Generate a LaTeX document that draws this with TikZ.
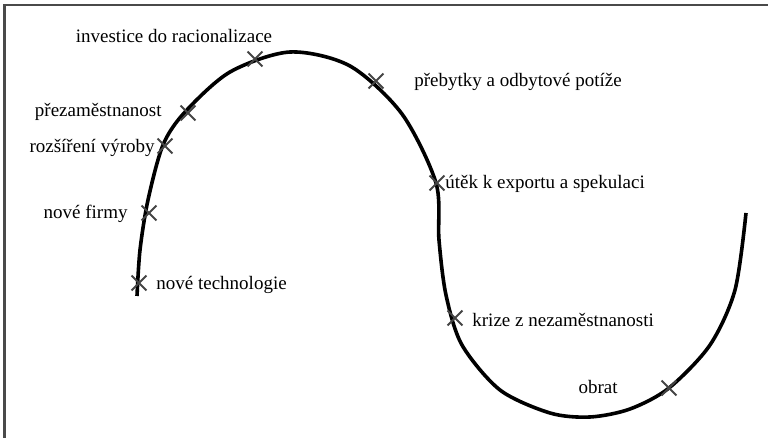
\documentclass[tikz,border=0pt]{standalone}
\usepackage{fontspec}
\setmainfont{Liberation Serif}
\usetikzlibrary{positioning,shapes.misc}
\definecolor{ramecgray}{HTML}{4A4A4A}
\definecolor{krizgray}{HTML}{444444}

\begin{document}
\begin{tikzpicture}[
    x=0.5pt, y=-0.5pt,
    font=\fontsize{9.5}{11}\selectfont,
    %% Rámeček (jen horní a levá hrana)
    ramec/.style={draw=ramecgray, line width=1pt},
    %% Křivka hospodářského cyklu
    krivka/.style={draw=black, line width=1.8pt, line cap=butt},
    %% Křížek na křivce
    krizek/.style={cross out, draw=krizgray, line width=0.9pt,
        minimum size=6.5pt, inner sep=0pt},
    %% Popisek fáze
    popis/.style={inner sep=0pt, text=black}
]

\useasboundingbox (0,0) rectangle (768,438);

%% Rámeček
\coordinate (rLD) at (4.5,438);
\coordinate (rLH) at (4.5,5.5);
\coordinate (rPH) at (768,5.5);
\draw[ramec] (rLD) -- (rLH) -- (rPH);

%% Body křížků
\coordinate (tech)   at (139,283);
\coordinate (firmy)  at (149,213);
\coordinate (vyroba) at (165,146);
\coordinate (preza)  at (188,113);
\coordinate (invest) at (255,59);
\coordinate (prebyt) at (376,81);
\coordinate (utek)   at (437,183);
\coordinate (krize)  at (455,318);
\coordinate (obrat)  at (669,388);

%% Křivka
\draw[krivka] plot[smooth, tension=0.5] coordinates {
    (137,296) (140,250) (148,200) (163,145)
    (185,112) (230,72) (290,52)
    (350,66) (402,114) (436,183) (439,240)
    (446,295) (462,345) (500,390) (550,413)
    (590,417) (630,409) (669,388) (710,345) (735,290)
    (746,213)};

%% Křížky
\foreach \k in {tech, firmy, vyroba, preza, invest, prebyt, utek, krize, obrat} {
    \node[krizek] (x\k) at (\k) {};
}

%% Popisky
\node[popis, right=8.5pt of tech, yshift=-1pt] (lTech) {nové technologie};
\node[popis, left=10.5pt of firmy, yshift=-0.5pt] (lFirmy) {nové firmy};
\node[popis, left=5pt of vyroba, yshift=-1pt] (lVyroba) {rozšíření výroby};
\node[popis, left=13pt of preza, yshift=0.5pt] (lPreza) {přezaměstnanost};
\node[popis] (lInvest) at (174,36) {investice do racionalizace};
\node[popis, right=19pt of prebyt, yshift=-0.5pt] (lPrebyt) {přebytky a odbytové potíže};
\node[popis, right=4pt of utek, yshift=-0.5pt] (lUtek) {útěk k exportu a spekulaci};
\node[popis, right=8.5pt of krize, yshift=-1pt] (lKrize) {krize z nezaměstnanosti};
\node[popis, left=25.5pt of obrat, yshift=0.5pt] (lObrat) {obrat};

\end{tikzpicture}
\end{document}
